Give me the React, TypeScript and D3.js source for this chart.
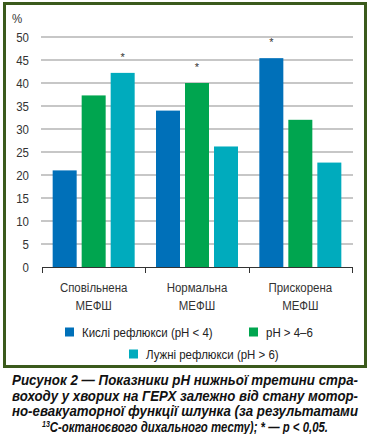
import React from 'react';
import * as d3 from 'd3';

const categories = ['Сповільнена', 'Нормальна', 'Прискорена'];
const series = ['Кислі рефлюкси (pH < 4)', 'pH > 4–6', 'Лужні рефлюкси (pH > 6)'];
const acidValues = [21, 34, 45.4];
const midValues = [37.3, 40, 32];
const alkalineValues = [42.2, 26.2, 22.7];
// index of the series marked with * in each category
const starSeries = [2, 1, 0];
const yTicks = [0, 5, 10, 15, 20, 25, 30, 35, 40, 45, 50];
const captionLines = [
  'Рисунок 2 — Показники pH нижньої третини стра-',
  'воходу у хворих на ГЕРХ залежно від стану мотор-',
  'но-евакуаторної функції шлунка (за результатами',
];

const colors = ['#0070b9', '#00a54f', '#00abbd'];
const font = '"Liberation Sans", Arial, sans-serif';

// narrow text: Arial Narrow look by squeezing regular sans horizontally
const T: React.FC<{ x: number; y: number; anchor?: string; size?: number; fill?: string; children: React.ReactNode }> =
  ({ x, y, anchor = 'start', size = 13.5, fill = '#333', children }) => (
    <text transform={`translate(${x},${y}) scale(0.85,1)`} dy="0.35em" textAnchor={anchor}
      fontFamily={font} fontSize={size} fill={fill}>{children}</text>
  );

const App: React.FC = () => {
  const width = 370;
  const height = 434;
  const values = [acidValues, midValues, alkalineValues];

  const x = d3.scaleBand<string>().domain(categories).range([42, 352]);
  const bw = x.bandwidth();
  const xs = d3.scaleBand<string>()
    .domain(series)
    .range([bw / 2 - 41, bw / 2 + 41])
    .paddingInner(5 / 29);
  const y = d3.scaleLinear().domain([0, 50]).range([267, 37]);

  const legendItems = [
    { s: 0, x: 65, y: 332 },
    { s: 1, x: 249, y: 332 },
    { s: 2, x: 129, y: 354 },
  ];

  return (
    <svg width={width} height={height} style={{ position: 'absolute', left: 0, top: 0, background: '#fff' }}>
      {/* frame */}
      <rect x={4.5} y={3.5} width={361} height={363} fill="none" stroke="#3b5a1c" strokeWidth={3} />

      {/* grid */}
      {yTicks.filter(t => t > 0).map(t => (
        <line key={t} x1={41} x2={353} y1={y(t)} y2={y(t)} stroke="#8f8f8f" strokeWidth={1} />
      ))}
      {yTicks.map(t => (
        <T key={t} x={29} y={y(t)} anchor="end">{t}</T>
      ))}
      <T x={17} y={18} anchor="middle">%</T>

      {/* bars */}
      {categories.map((c, ci) => (
        <g key={c} transform={`translate(${x(c)},0)`}>
          {series.map((s, si) => (
            <rect key={s} x={xs(s)} y={y(values[si][ci])} width={xs.bandwidth()}
              height={y(0) - y(values[si][ci])} fill={colors[si]} />
          ))}
          <text x={(xs(series[starSeries[ci]]) || 0) + xs.bandwidth() / 2}
            y={y(values[starSeries[ci]][ci]) - 12} textAnchor="middle"
            fontFamily={font} fontSize={11} fill="#333">*</text>
        </g>
      ))}

      {/* x axis */}
      <line x1={42} x2={352} y1={267.5} y2={267.5} stroke="#333" strokeWidth={1} />
      {[...categories.map(c => x(c) || 0), 352].map((v, i) => (
        <line key={i} x1={Math.round(v) + 0.5} x2={Math.round(v) + 0.5} y1={267} y2={273} stroke="#333" />
      ))}
      {categories.map(c => (
        <g key={c}>
          <T x={(x(c) || 0) + bw / 2} y={287} anchor="middle">{c}</T>
          <T x={(x(c) || 0) + bw / 2} y={305} anchor="middle">МЕФШ</T>
        </g>
      ))}

      {/* legend */}
      {legendItems.map(l => (
        <g key={l.s}>
          <rect x={l.x} y={l.y - 4.5} width={9} height={9} fill={colors[l.s]} />
          <T x={l.x + 17} y={l.y} fill="#222">{series[l.s]}</T>
        </g>
      ))}

      {/* caption */}
      {captionLines.map((line, i) => (
        <text key={i} x={12} y={380 + i * 15.5} dy="0.35em" textLength={346} lengthAdjust="spacingAndGlyphs"
          fontFamily={font} fontSize={14.5} fontWeight="bold" fontStyle="italic" fill="#111">{line}</text>
      ))}
      <text x={42} y={426.5} dy="0.35em" textLength={286} lengthAdjust="spacingAndGlyphs" fontFamily={font} fontSize={14.5}
        fontWeight="bold" fontStyle="italic" fill="#111">
        <tspan fontSize={9} baselineShift="super">13</tspan>
        <tspan>С-октаноєвого дихального тесту); * — p &lt; 0,05.</tspan>
      </text>
    </svg>
  );
};

export default App;
